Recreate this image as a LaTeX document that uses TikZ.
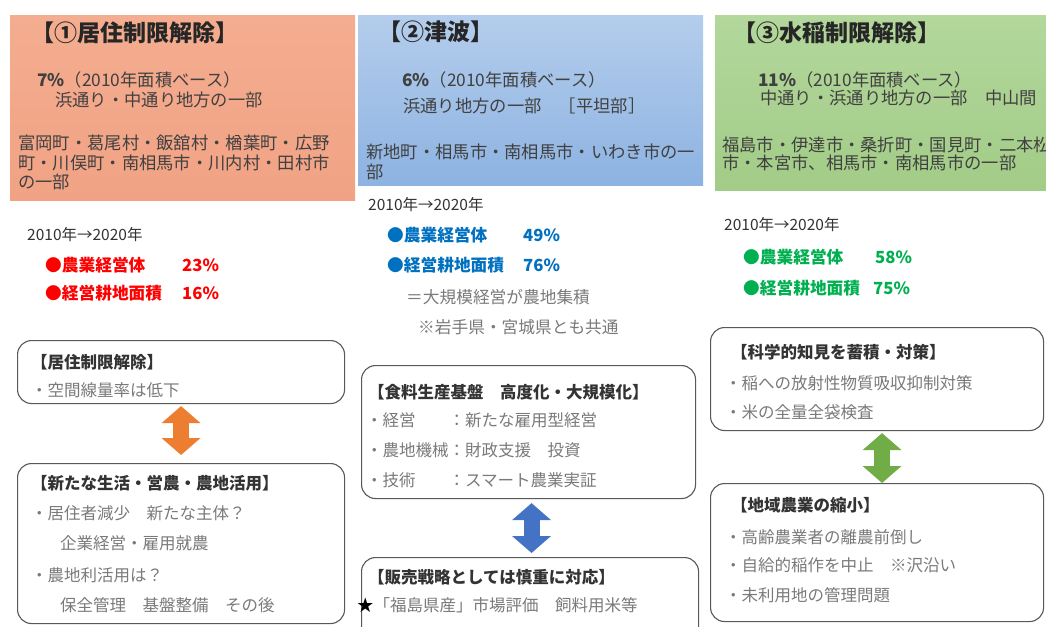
\documentclass[tikz,border=0pt]{standalone}
\usepackage{fontspec}
\setmainfont{Noto Sans CJK JP}
\usetikzlibrary{arrows.meta}
\definecolor{salmontop}{HTML}{F4AD90}
\definecolor{salmonbot}{HTML}{F1A284}
\definecolor{bluetop}{HTML}{B4CDEC}
\definecolor{bluebot}{HTML}{8DB3E2}
\definecolor{greentop}{HTML}{B3D79C}
\definecolor{greenbot}{HTML}{A2CC87}
\definecolor{txt}{HTML}{404040}
\definecolor{lt}{HTML}{7A7A7A}
\definecolor{redc}{HTML}{FF0000}
\definecolor{bluec}{HTML}{0070C0}
\definecolor{greenc}{HTML}{00B050}
\definecolor{arrO}{HTML}{ED7D31}
\definecolor{arrB}{HTML}{4472C4}
\definecolor{arrG}{HTML}{70AD47}
\tikzset{
  panel/.style={anchor=north west, inner sep=0, minimum width=345pt},
  ptitle/.style={anchor=west, inner sep=0, font=\fontsize{23}{27}\selectfont\bfseries, text=black!85},
  ptxt/.style={anchor=west, inner sep=0, font=\fontsize{17.3}{20}\selectfont, text=txt},
  yr/.style={anchor=west, inner sep=0, font=\fontsize{15.5}{18}\selectfont, text=black!80},
  stat/.style={anchor=west, inner sep=0, font=\fontsize{16.7}{19}\selectfont\bfseries},
  note/.style={anchor=west, inner sep=0, font=\fontsize{16.7}{19}\selectfont, text=lt},
  ttl/.style={anchor=west, inner sep=0, font=\fontsize{16.5}{19}\selectfont\bfseries, text=black!80},
  btxt/.style={anchor=west, inner sep=0, font=\fontsize{16.5}{19}\selectfont, text=lt},
  rbox/.style={draw=black!65, line width=1.1pt, rounded corners=14pt, anchor=north west, inner sep=0},
  fat/.style={line width=16pt, {Triangle[width=38pt,length=17pt]}-{Triangle[width=38pt,length=17pt]}}
}
\begin{document}
\begin{tikzpicture}[x=1pt,y=-1pt]
\useasboundingbox (0,0) rectangle (1046,626);
\fill[white] (0,0) rectangle (1046,626);
\clip (0,0) rectangle (1046,626);
% panels
\node[panel, minimum height=185pt, top color=salmontop, bottom color=salmonbot] (p1) at (10,15) {};
\node[panel, minimum height=170pt, top color=bluetop, bottom color=bluebot] (p2) at (358,15) {};
\node[panel, minimum height=175pt, top color=greentop, bottom color=greenbot] (p3) at (715,15) {};
% panel 1 text
\node[ptitle] (p1t) at (31,33) {【①居住制限解除】};
\node[ptxt] (p1a) at (37,80) {\textbf{7\%}（2010年面積ベース）};
\node[ptxt] (p1b) at (55,100) {浜通り・中通り地方の一部};
\node[ptxt] (p1c) at (18,143) {富岡町・葛尾村・飯舘村・楢葉町・広野};
\node[ptxt] (p1d) at (18,163) {町・川俣町・南相馬市・川内村・田村市};
\node[ptxt] (p1e) at (18,182) {の一部};
% panel 2 text
\node[ptitle] (p2t) at (378,32) {【②津波】};
\node[ptxt] (p2a) at (402,80) {\textbf{6\%}（2010年面積ベース）};
\node[ptxt] (p2b) at (403,106) {浜通り地方の一部　［平坦部］};
\node[ptxt] (p2c) at (366,152) {新地町・相馬市・南相馬市・いわき市の一};
\node[ptxt] (p2d) at (366,172) {部};
% panel 3 text
\node[ptitle] (p3t) at (733,33) {【③水稲制限解除】};
\node[ptxt] (p3a) at (758,80) {\textbf{11\%}（2010年面積ベース）};
\node[ptxt] (p3b) at (760,98) {中通り・浜通り地方の一部　中山間};
\node[ptxt] (p3c) at (722,145) {福島市・伊達市・桑折町・国見町・二本松};
\node[ptxt] (p3d) at (722,163) {市・本宮市、相馬市・南相馬市の一部};
% statistics
\node[yr] (y1) at (27,235) {2010年→2020年};
\node[stat, text=redc] (r1) at (45,265) {●農業経営体};
\node[stat, text=redc] (r1v) at (182,265) {23\%};
\node[stat, text=redc] (r2) at (45,293) {●経営耕地面積};
\node[stat, text=redc] (r2v) at (182,293) {16\%};
\node[yr] (y2) at (368,205) {2010年→2020年};
\node[stat, text=bluec] (u1) at (387,235) {●農業経営体};
\node[stat, text=bluec] (u1v) at (523,235) {49\%};
\node[stat, text=bluec] (u2) at (387,265) {●経営耕地面積};
\node[stat, text=bluec] (u2v) at (523,265) {76\%};
\node[note] (u3) at (406,297) {＝大規模経営が農地集積};
\node[note] (u4) at (418,327) {※岩手県・宮城県とも共通};
\node[yr] (y3) at (724,225) {2010年→2020年};
\node[stat, text=greenc] (g1) at (743,257) {●農業経営体};
\node[stat, text=greenc] (g1v) at (875,257) {58\%};
\node[stat, text=greenc] (g2) at (743,288) {●経営耕地面積};
\node[stat, text=greenc] (g2v) at (873,288) {75\%};
% boxes
\node[rbox, minimum width=327pt, minimum height=63pt] (b1a) at (17,340) {};
\node[rbox, minimum width=327pt, minimum height=160pt] (b1b) at (17,463) {};
\node[rbox, minimum width=334pt, minimum height=133pt] (b2a) at (361,365) {};
\node[rbox, minimum width=337pt, minimum height=90pt] (b2b) at (361,557) {};
\node[rbox, minimum width=333pt, minimum height=103pt] (b3a) at (710,327) {};
\node[rbox, minimum width=333pt, minimum height=138pt] (b3b) at (710,483) {};
% box texts
\node[ttl] (b1at) at (31,362) {【居住制限解除】};
\node[btxt] (b1a1) at (31,390) {・空間線量率は低下};
\node[ttl] (b1bt) at (31,483) {【新たな生活・営農・農地活用】};
\node[btxt] (b1b1) at (31,513) {・居住者減少　新たな主体？};
\node[btxt] (b1b2) at (60,543) {企業経営・雇用就農};
\node[btxt] (b1b3) at (31,575) {・農地利活用は？};
\node[btxt] (b1b4) at (60,605) {保全管理　基盤整備　その後};
\node[ttl] (b2at) at (368,392) {【食料生産基盤　高度化・大規模化】};
\node[btxt] (b2a1) at (366,420) {・経営　　：新たな雇用型経営};
\node[btxt] (b2a2) at (366,450) {・農地機械：財政支援　投資};
\node[btxt] (b2a3) at (366,480) {・技術　　：スマート農業実証};
\node[ttl] (b2bt) at (368,577) {【販売戦略としては慎重に対応】};
\node[btxt] (b2b1) at (357,605) {\textcolor{black}{★}「福島県産」市場評価　飼料用米等};
\node[ttl] (b3at) at (731,352) {【科学的知見を蓄積・対策】};
\node[btxt] (b3a1) at (725,383) {・稲への放射性物質吸収抑制対策};
\node[btxt] (b3a2) at (725,412) {・米の全量全袋検査};
\node[ttl] (b3bt) at (731,505) {【地域農業の縮小】};
\node[btxt] (b3b1) at (725,537) {・高齢農業者の離農前倒し};
\node[btxt] (b3b2) at (725,565) {・自給的稲作を中止　※沢沿い};
\node[btxt] (b3b3) at (725,595) {・未利用地の管理問題};
% double arrows
\draw[fat, arrO, shorten <=2pt, shorten >=8pt] (b1a.south) -- (b1b.north);
\draw[fat, arrB, shorten <=4pt, shorten >=4pt] ([xshift=3pt]b2a.south) -- ([xshift=3pt]b2a.south |- b2b.north);
\draw[fat, arrG, shorten <=2pt, shorten >=0pt] ([xshift=5pt]b3a.south) -- ([xshift=5pt]b3a.south |- b3b.north);
\end{tikzpicture}
\end{document}
